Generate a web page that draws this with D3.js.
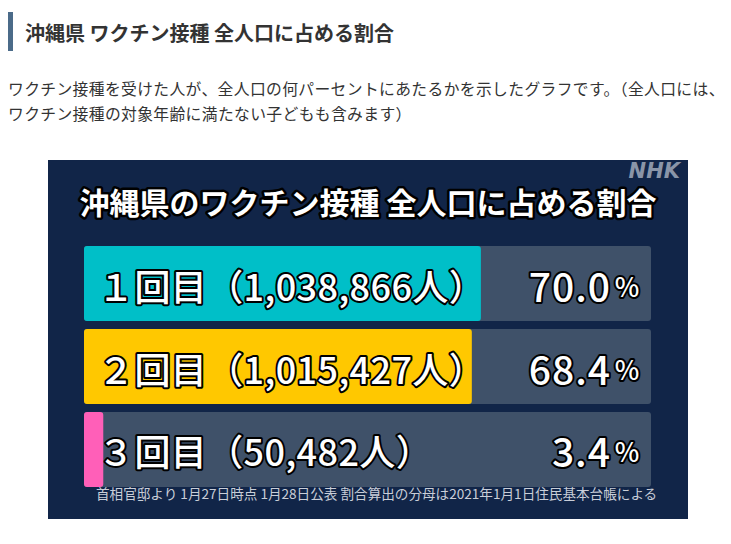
<!DOCTYPE html>
<html><head><meta charset="utf-8">
<script src="https://cdn.jsdelivr.net/npm/d3@7"></script>
<style>
html,body{margin:0;padding:0;background:#fff;}
svg{display:block;}
</style></head>
<body>
<script>
const pageTitle = "沖縄県 ワクチン接種 全人口に占める割合";
const descLines = ["ワクチン接種を受けた人が、全人口の何パーセントにあたるかを示したグラフです。（全人口には、",
                   "ワクチン接種の対象年齢に満たない子どもも含みます）"];
const chartTitle = "沖縄県のワクチン接種 全人口に占める割合";
const doses = ["１回目", "２回目", "３回目"];
const people = [1038866, 1015427, 50482];
const percents = [70.0, 68.4, 3.4];
const barColors = ["#00bfc8", "#ffc800", "#ff5fb8"];
const footnote = "首相官邸より 1月27日時点 1月28日公表 割合算出の分母は2021年1月1日住民基本台帳による";

const W = 731, H = 544;
const font = "'Noto Sans CJK JP','Noto Sans',sans-serif";
const svg = d3.select("body").append("svg").attr("width", W).attr("height", H);

// page header
svg.append("rect").attr("x", 8).attr("y", 12).attr("width", 5).attr("height", 39).attr("fill", "#4b6b89");
svg.append("text").attr("x", 25).attr("y", 32).attr("dominant-baseline", "central")
  .attr("font-family", font).attr("font-weight", 700).attr("font-size", 20).attr("fill", "#333")
  .text(pageTitle);
descLines.forEach((t, i) => {
  svg.append("text").attr("x", 8).attr("y", 88 + i * 25).attr("dominant-baseline", "central")
    .attr("font-family", font).attr("font-size", 15.8).attr("letter-spacing", 0.35).attr("fill", "#333").text(t);
});

// panel
const panel = {x: 48, y: 160, w: 640, h: 359};
svg.append("rect").attr("x", panel.x).attr("y", panel.y).attr("width", panel.w).attr("height", panel.h).attr("fill", "#112548");

// NHK logo
svg.append("text").attr("x", 680).attr("y", 171).attr("dominant-baseline", "central").attr("text-anchor", "end")
  .attr("font-family", "'DejaVu Sans',sans-serif").attr("font-weight", 700).attr("font-style", "italic")
  .attr("font-size", 21).attr("fill", "#8a95a8").text("NHK");

function outlined(sel, sw) {
  return sel.attr("fill", "#fff").attr("stroke", "#000").attr("stroke-width", sw)
    .attr("stroke-linejoin", "round").attr("paint-order", "stroke");
}

outlined(svg.append("text").attr("x", 368).attr("y", 201).attr("dominant-baseline", "central").attr("text-anchor", "middle")
  .attr("font-family", font).attr("font-weight", 700).attr("font-size", 30).text(chartTitle), 5);

// scales
const x = d3.scaleLinear().domain([0, 100]).range([84, 651]);
const y = d3.scaleBand().domain(doses).range([246, 487]).paddingInner(0.096);

const rows = doses.map((d, i) => ({dose: d, people: people[i], pct: percents[i], color: barColors[i]}));

const g = svg.append("g");
g.selectAll("rect.track").data(rows).join("rect").attr("class", "track")
  .attr("x", x(0)).attr("y", d => y(d.dose)).attr("width", x(100) - x(0)).attr("height", y.bandwidth())
  .attr("rx", 3).attr("fill", "#3f5169");
g.selectAll("rect.bar").data(rows).join("rect").attr("class", "bar")
  .attr("x", x(0)).attr("y", d => y(d.dose)).attr("width", d => x(d.pct) - x(0)).attr("height", y.bandwidth())
  .attr("rx", 3).attr("fill", d => d.color);

const fmt = d3.format(",");
outlined(g.selectAll("text.lab").data(rows).join("text").attr("class", "lab")
  .attr("x", 98).attr("y", d => y(d.dose) + y.bandwidth() / 2 + 1).attr("dominant-baseline", "central")
  .attr("font-family", font).attr("font-weight", 500).attr("font-size", 36).attr("letter-spacing", 0.4)
  .text(d => d.dose + "（" + fmt(d.people) + "人）"), 4);

const pt = g.selectAll("text.pct").data(rows).join("text").attr("class", "pct")
  .attr("x", 640).attr("y", d => y(d.dose) + y.bandwidth() / 2 + 1).attr("dominant-baseline", "central")
  .attr("text-anchor", "end").attr("font-family", font).attr("font-weight", 500);
outlined(pt, 4);
pt.append("tspan").attr("font-size", 39).attr("letter-spacing", 1).text(d => d.pct.toFixed(1));
pt.append("tspan").attr("font-size", 26).attr("dx", 3).text("％");

svg.append("text").attr("x", 96).attr("y", 493).attr("dominant-baseline", "central")
  .attr("font-family", font).attr("font-size", 13.6).attr("fill", "#c9ced8").text(footnote);
</script>
</body></html>
